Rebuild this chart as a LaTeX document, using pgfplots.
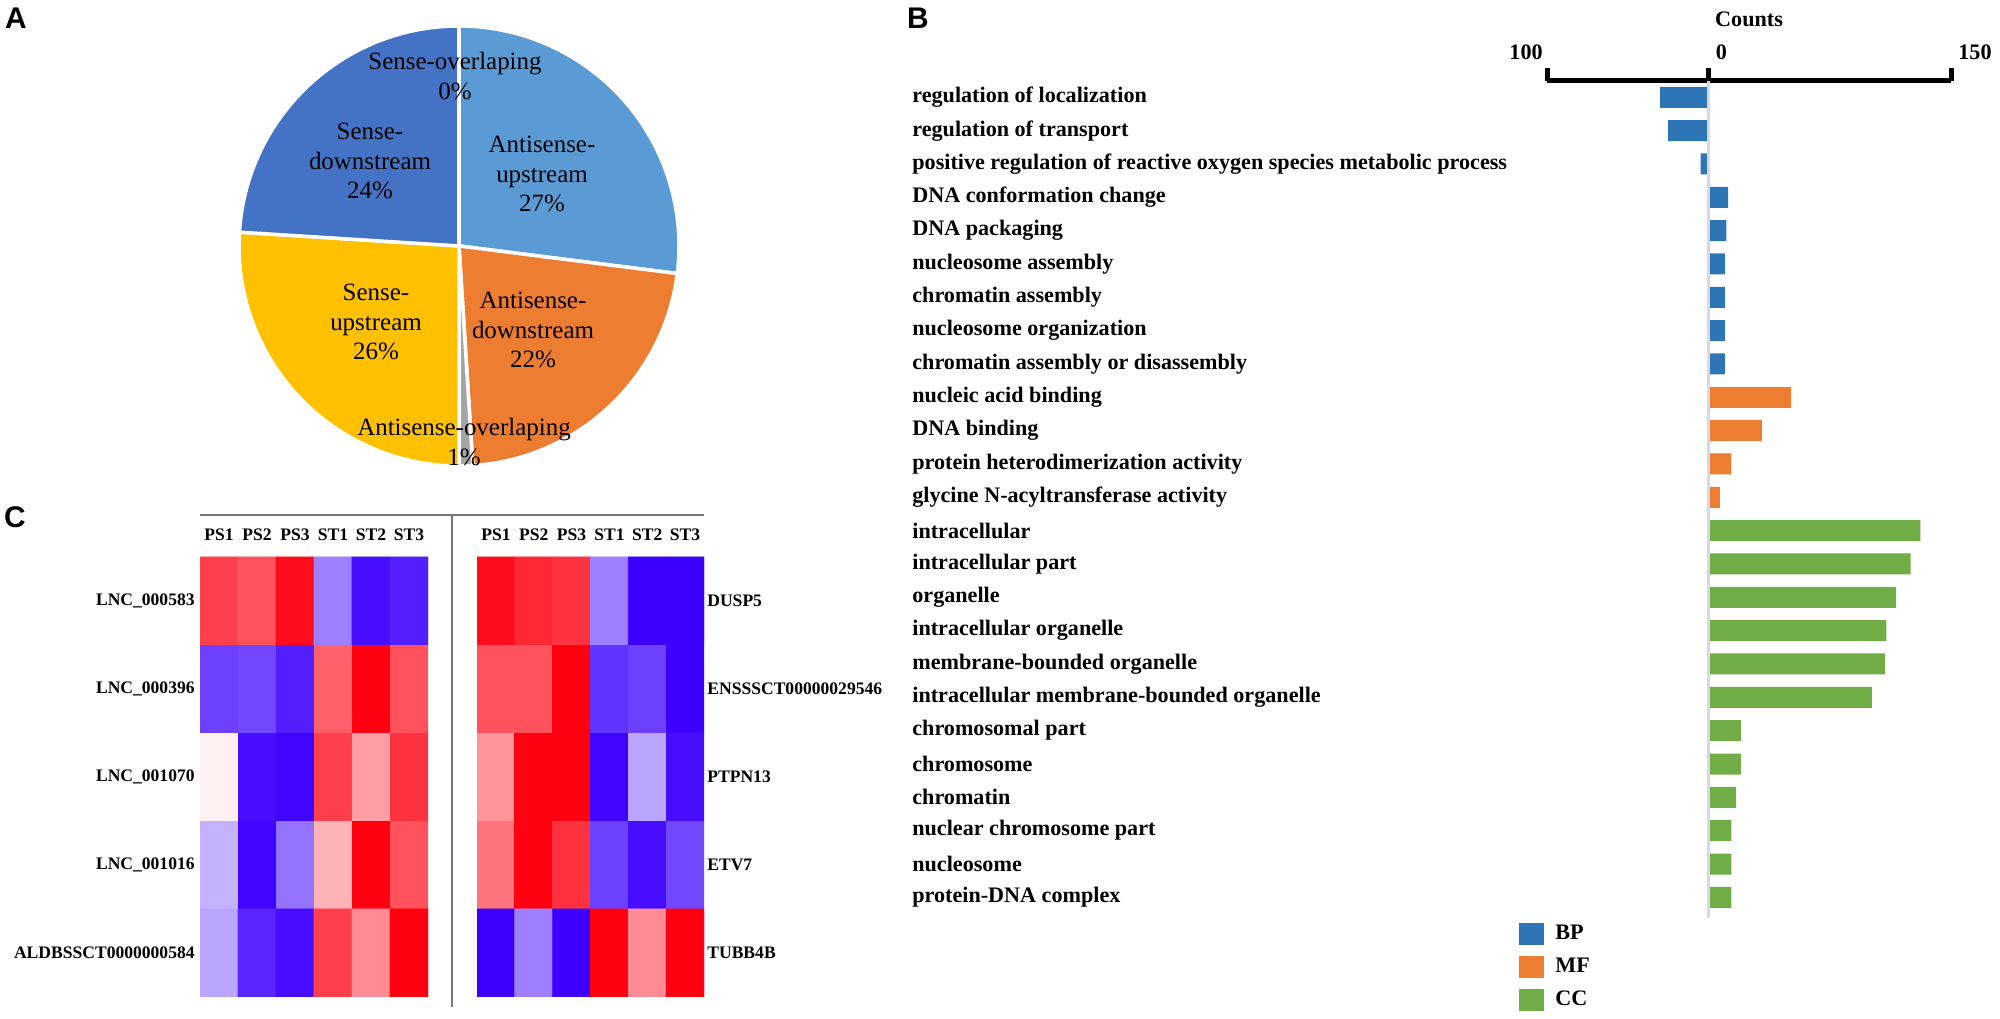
\documentclass[border=0pt]{standalone}
\usepackage{fontspec}
\setmainfont{Liberation Serif}
\setsansfont{Liberation Sans}
\usepackage{pgfplots}
\usepackage{pgfplotstable}
\pgfplotsset{compat=1.18}

\definecolor{bp}{RGB}{46,117,182}
\definecolor{mf}{RGB}{237,125,49}
\definecolor{cc}{RGB}{112,173,71}
\definecolor{pieAU}{RGB}{91,155,213}
\definecolor{pieAD}{RGB}{237,125,49}
\definecolor{pieAO}{RGB}{165,165,165}
\definecolor{pieSU}{RGB}{255,192,0}
\definecolor{pieSD}{RGB}{68,114,196}
\definecolor{zeroline}{RGB}{216,216,226}
\definecolor{divline}{RGB}{120,120,120}

\newcommand\panellab{\sffamily\bfseries\fontsize{17}{17}\selectfont}
\newcommand\pielab{\fontsize{14.2}{17}\selectfont}
\newcommand\barlab{\bfseries\fontsize{12.6}{15}\selectfont}
\newcommand\hmlab{\bfseries\fontsize{10}{12}\selectfont}

\pgfplotsset{colormap={bwr}{rgb255=(60,0,255) rgb255=(255,255,255) rgb255=(255,0,16)}}

% heatmap values, rows top to bottom, columns PS1..ST3
\pgfplotstableread{
x y z
0 0 0.75
1 0 0.68
2 0 0.95
3 0 -0.5
4 0 -0.95
5 0 -0.88
0 1 -0.75
1 1 -0.72
2 1 -0.88
3 1 0.62
4 1 1.0
5 1 0.68
0 2 0.06
1 2 -0.95
2 2 -0.98
3 2 0.75
4 2 0.38
5 2 0.8
0 3 -0.3
1 3 -0.98
2 3 -0.55
3 3 0.3
4 3 1.0
5 3 0.68
0 4 -0.35
1 4 -0.85
2 4 -0.95
3 4 0.75
4 4 0.45
5 4 1.0
}\heatL

\pgfplotstableread{
x y z
0 0 0.95
1 0 0.85
2 0 0.8
3 0 -0.5
4 0 -1
5 0 -1
0 1 0.68
1 1 0.68
2 1 1
3 1 -0.8
4 1 -0.75
5 1 -1
0 2 0.42
1 2 1
2 2 1
3 2 -0.98
4 2 -0.35
5 2 -0.95
0 3 0.55
1 3 1
2 3 0.8
3 3 -0.75
4 3 -0.95
5 3 -0.72
0 4 -1
1 4 -0.5
2 4 -1
3 4 1
4 4 0.45
5 4 1
}\heatR

\begin{document}
\begin{tikzpicture}[x=0.2mm,y=0.2mm]
\path[use as bounding box] (0,0) rectangle (2000,1019);

% panel letters
\node[font=\panellab] at (16,1001) {A};
\node[font=\panellab] at (918,1001) {B};
\node[font=\panellab] at (15,502) {C};

% ---------------- A: pie ----------------
\begin{axis}[at={(91.8mm,154.6mm)}, anchor=center, scale only axis,
  width=88mm, height=88mm, xmin=-1, xmax=1, ymin=-1, ymax=1,
  hide axis, clip=false]
\fill[pieAU, draw=white, line width=0.7mm] (axis cs:0,0) -- ++(90:44mm)
  arc[start angle=90, delta angle={-3.6*27}, radius=44mm] -- cycle;
\fill[pieAD, draw=white, line width=0.7mm] (axis cs:0,0) -- ++({90-3.6*27}:44mm)
  arc[start angle={90-3.6*27}, delta angle={-3.6*22}, radius=44mm] -- cycle;
\fill[pieAO, draw=white, line width=0.7mm] (axis cs:0,0) -- ++({90-3.6*49}:44mm)
  arc[start angle={90-3.6*49}, delta angle={-3.6*1}, radius=44mm] -- cycle;
\fill[pieSU, draw=white, line width=0.7mm] (axis cs:0,0) -- ++({90-3.6*50}:44mm)
  arc[start angle={90-3.6*50}, delta angle={-3.6*26}, radius=44mm] -- cycle;
\fill[pieSD, draw=white, line width=0.7mm] (axis cs:0,0) -- ++({90-3.6*76}:44mm)
  arc[start angle={90-3.6*76}, delta angle={-3.6*24}, radius=44mm] -- cycle;
\draw[white, line width=0.7mm] (axis cs:0,0) -- ++(90:44mm);
\end{axis}

\node[align=center, font=\pielab] at (455,943) {Sense-overlaping\\0\%};
\node[align=center, font=\pielab] at (370,858) {Sense-\\downstream\\24\%};
\node[align=center, font=\pielab] at (542,845) {Antisense-\\upstream\\27\%};
\node[align=center, font=\pielab] at (376,697) {Sense-\\upstream\\26\%};
\node[align=center, font=\pielab] at (533,689) {Antisense-\\downstream\\22\%};
\node[align=center, font=\pielab] at (464,577) {Antisense-overlaping\\1\%};

% ---------------- B: GO counts ----------------
\begin{axis}[at={(309.4mm,187.6mm)}, anchor=north west, scale only axis,
  width=80.8mm, height=167.4mm,
  xmin=-100, xmax=150, ymin=0.51, ymax=25.62, y dir=reverse,
  xbar, bar width=4.2mm, bar shift=0pt,
  axis x line*=top, axis y line*=left,
  x axis line style={line width=1mm, -},
  y axis line style={draw=none},
  xtick={-100,0,150}, xticklabels={,,},
  xtick style={line width=1mm, black},
  major tick length=2.6mm, tick align=outside,
  ytick={1,...,25}, ytick style={draw=none},
  yticklabels={regulation of localization, regulation of transport,
    positive regulation of reactive oxygen species metabolic process,
    DNA conformation change, DNA packaging, nucleosome assembly,
    chromatin assembly, nucleosome organization,
    chromatin assembly or disassembly, nucleic acid binding, DNA binding,
    protein heterodimerization activity, glycine N-acyltransferase activity,
    intracellular, intracellular part, organelle, intracellular organelle,
    membrane-bounded organelle, intracellular membrane-bounded organelle,
    chromosomal part, chromosome, chromatin, nuclear chromosome part,
    nucleosome, protein-DNA complex},
  yticklabel style={font=\barlab, anchor=west, inner sep=0pt, xshift=-124.4mm},
  clip=false,
  legend image code/.code={\fill[#1] (0mm,-2.2mm) rectangle (5mm,2.2mm);},
  legend cell align=left,
  legend style={at={(axis description cs:-0.0693,-0.005)}, anchor=north west,
    draw=none, fill=none, inner sep=0pt, font=\barlab, row sep=2.2mm,
    nodes={inner sep=0pt},
    /tikz/every odd column/.append style={column sep=2.2mm}},
]
\addplot[fill=bp, draw=none] coordinates {
  (-30,1) (-25,2) (-5,3) (12,4) (11,5) (10,6) (10,7) (10,8) (10,9)};
\addplot[fill=mf, draw=none] coordinates {
  (51,10) (33,11) (14,12) (7,13)};
\addplot[fill=cc, draw=none] coordinates {
  (131,14) (125,15) (116,16) (110,17) (109,18) (101,19)
  (20,20) (20,21) (17,22) (14,23) (14,24) (14,25)};
\legend{BP,MF,CC}
\draw[zeroline, line width=0.55mm] (axis cs:0,0.51) -- (axis cs:0,25.62);
\node[anchor=base east, inner sep=0pt, font=\barlab] at ([xshift=-0.8mm,yshift=4.2mm]axis cs:-100,0.51) {100};
\node[anchor=base west, inner sep=0pt, font=\barlab] at ([xshift=1.4mm,yshift=4.2mm]axis cs:0,0.51) {0};
\node[anchor=base west, inner sep=0pt, font=\barlab] at ([xshift=1.4mm,yshift=4.2mm]axis cs:150,0.51) {150};
\node[anchor=base, inner sep=0pt, font=\barlab] at ([yshift=10.8mm]axis cs:25,0.51) {Counts};
\end{axis}

% ---------------- C: heatmaps ----------------
\draw[divline, line width=0.45mm] (200,504) -- (704,504);
\draw[divline, line width=0.45mm] (451.7,504) -- (451.7,12);

\begin{axis}[at={(40mm,92.4mm)}, anchor=north west, scale only axis,
  width=45.6mm, height=88mm,
  xmin=-0.5, xmax=5.5, ymin=-0.5, ymax=4.5, y dir=reverse,
  axis line style={draw=none}, tick style={draw=none},
  xtick={0,...,5}, xticklabels={PS1,PS2,PS3,ST1,ST2,ST3},
  xticklabel pos=upper,
  xticklabel style={font=\hmlab, anchor=base, inner sep=0pt, yshift=3.2mm},
  ytick={0,...,4},
  yticklabels={LNC\_000583,LNC\_000396,LNC\_001070,LNC\_001016,ALDBSSCT0000000584},
  yticklabel style={font=\hmlab, anchor=east, inner sep=0pt, xshift=-1mm},
  colormap name=bwr, point meta min=-1, point meta max=1]
\addplot[matrix plot*, mesh/cols=6, point meta=explicit] table[meta=z] {\heatL};
\end{axis}

\begin{axis}[at={(95.4mm,92.4mm)}, anchor=north west, scale only axis,
  width=45.4mm, height=88mm,
  xmin=-0.5, xmax=5.5, ymin=-0.5, ymax=4.5, y dir=reverse,
  axis line style={draw=none}, tick style={draw=none},
  xtick={0,...,5}, xticklabels={PS1,PS2,PS3,ST1,ST2,ST3},
  xticklabel pos=upper,
  xticklabel style={font=\hmlab, anchor=base, inner sep=0pt, yshift=3.2mm},
  ytick={0,...,4},
  yticklabels={DUSP5,ENSSSCT00000029546,PTPN13,ETV7,TUBB4B},
  yticklabel pos=right,
  yticklabel style={font=\hmlab, anchor=west, inner sep=0pt, xshift=0.6mm},
  colormap name=bwr, point meta min=-1, point meta max=1]
\addplot[matrix plot*, mesh/cols=6, point meta=explicit] table[meta=z] {\heatR};
\end{axis}

\end{tikzpicture}
\end{document}
